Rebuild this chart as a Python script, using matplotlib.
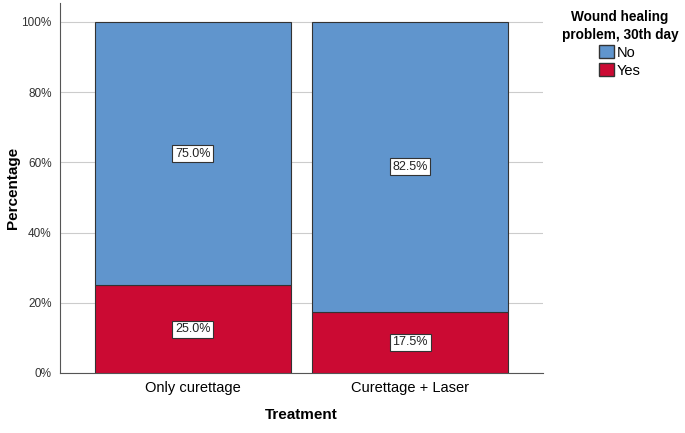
import matplotlib.pyplot as plt
from matplotlib.patches import Patch

plt.rcParams['font.family'] = ['Liberation Sans', 'DejaVu Sans']

categories = ['Only curettage', 'Curettage + Laser']
yes_pct = [25.0, 17.5]
no_pct = [75.0, 82.5]

blue = '#6095CD'
red = '#CB0A33'

fig = plt.figure(figsize=(6.85, 4.33), dpi=100)
ax = fig.add_axes([0.0876, 0.1386, 0.7051, 0.8544])

x = range(len(categories))
ax.bar(x, yes_pct, width=0.9, color=red, edgecolor='#333333', linewidth=0.8, zorder=3)
ax.bar(x, no_pct, width=0.9, bottom=yes_pct, color=blue, edgecolor='#333333', linewidth=0.8, zorder=3)

box = dict(boxstyle='square,pad=0.2', facecolor='white', edgecolor='#333333', linewidth=0.8)
for i in x:
    ax.text(i, yes_pct[i] / 2, f'{yes_pct[i]:.1f}%', ha='center', va='center',
            fontsize=9, color='#222222', bbox=box, zorder=4)
    ax.text(i, yes_pct[i] + no_pct[i] / 2, f'{no_pct[i]:.1f}%', ha='center', va='center',
            fontsize=9, color='#222222', bbox=box, zorder=4)

ax.set_xlim(-0.61, 1.61)
ax.set_ylim(0, 105.4)
ax.set_yticks([0, 20, 40, 60, 80, 100])
ax.set_yticklabels(['0%', '20%', '40%', '60%', '80%', '100%'])
ax.set_xticks(list(x))
ax.set_xticklabels(categories, fontsize=10.5)
ax.tick_params(axis='y', labelsize=8.5, labelcolor='#333333', length=0, pad=6)
ax.tick_params(axis='x', length=0, pad=6)
ax.yaxis.grid(True, color='#cccccc', linewidth=0.8, zorder=0)

for s in ['top', 'right']:
    ax.spines[s].set_visible(False)
for s in ['left', 'bottom']:
    ax.spines[s].set_color('#555555')
    ax.spines[s].set_linewidth(0.8)

ax.set_xlabel('Treatment', fontsize=11, fontweight='bold')
ax.set_ylabel('Percentage', fontsize=11, fontweight='bold')
ax.xaxis.set_label_coords(0.5, -0.095)
ax.yaxis.set_label_coords(-0.083, 0.5)

handles = [Patch(facecolor=blue, edgecolor='#333333', label='No'),
           Patch(facecolor=red, edgecolor='#333333', label='Yes')]
leg = fig.legend(handles=handles, title='Wound healing\nproblem, 30th day',
                 loc='upper center', bbox_to_anchor=(0.905, 1.0), frameon=False,
                 fontsize=10.5, title_fontsize=9.8, handlelength=1.0, handleheight=1.0,
                 handletextpad=0.2, labelspacing=0.25, borderpad=0.2)
leg.get_title().set_fontweight('bold')
leg.get_title().set_multialignment('center')
leg.get_title().set_linespacing(1.3)

fig.savefig('out.png', dpi=100)
